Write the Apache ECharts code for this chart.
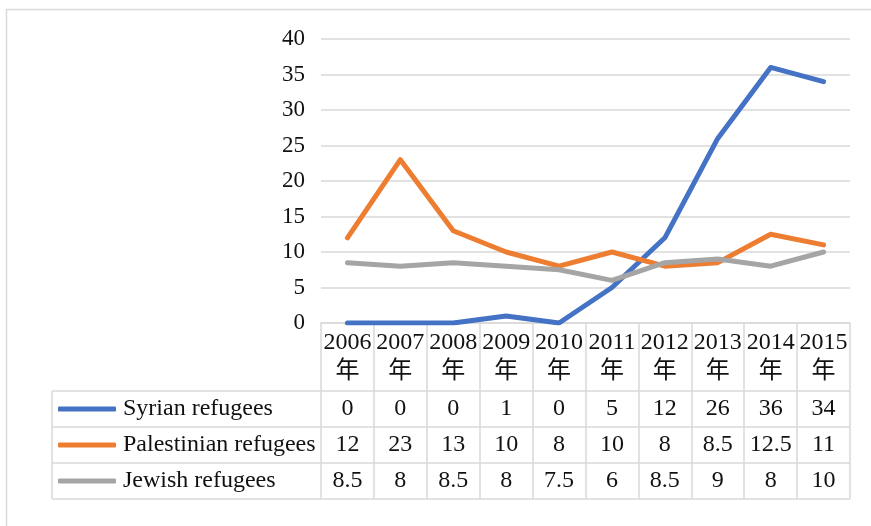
<!DOCTYPE html>
<html><head><meta charset="utf-8">
<script src="https://cdn.jsdelivr.net/npm/echarts@6/dist/echarts.min.js"></script>
<style>html,body{margin:0;padding:0;background:#fff}#c{width:871px;height:526px}</style>
</head><body><div id="c"></div>
<script>
const years = ['2006','2007','2008','2009','2010','2011','2012','2013','2014','2015'];
const yearSuffix = '年';
const seriesNames = ['Syrian refugees','Palestinian refugees','Jewish refugees'];
const syrian = [0,0,0,1,0,5,12,26,36,34];
const palestinian = [12,23,13,10,8,10,8,8.5,12.5,11];
const jewish = [8.5,8,8.5,8,7.5,6,8.5,9,8,10];
const colors = ['#4472C4','#ED7D31','#A5A5A5'];
const allValues = [syrian, palestinian, jewish];

const FONT = "'Liberation Serif','Noto Sans CJK SC',serif";
const TXT = '#111';
const GRID_C = '#d9d9d9';

const chart = echarts.init(document.getElementById('c'), null, {renderer:'canvas'});

const tableAxes = allValues.map((vals, i) => ({
  type:'category', data: years, position:'bottom', offset: 68 + i*36, gridIndex:0,
  boundaryGap:true,
  axisLine:{show:false}, axisTick:{show:false}, splitLine:{show:false},
  axisLabel:{margin:0, fontFamily:FONT, fontSize:24, color:TXT, lineHeight:36, interval:0,
    formatter:(v, idx) => String(vals[idx])}
}));

const option = {
  animation:false,
  color: colors,
  grid:{left:321, right:21, top:39, bottom:203, containLabel:false},
  legend:{
    orient:'vertical', left:58, top:391, itemGap:0, padding:0,
    itemWidth:58, itemHeight:5, icon:'roundRect',
    textStyle:{fontFamily:FONT, fontSize:24, color:TXT, lineHeight:36, padding:[0,0,0,2]},
    data: seriesNames, selectedMode:false
  },
  xAxis:[{
    type:'category', data: years, boundaryGap:true,
    axisLine:{show:true, lineStyle:{color:GRID_C, width:1.5}},
    axisTick:{show:true, length:176, lineStyle:{color:GRID_C, width:1.5}},
    axisLabel:{margin:5, fontFamily:FONT, fontSize:24, color:TXT, lineHeight:29, interval:0,
      formatter:v => v + '\n' + yearSuffix}
  }].concat(tableAxes),
  yAxis:{
    type:'value', min:0, max:40, interval:5,
    axisLine:{show:false}, axisTick:{show:false},
    axisLabel:{margin:16, fontFamily:FONT, fontSize:23, color:TXT},
    splitLine:{lineStyle:{color:GRID_C, width:1.5}}
  },
  series: allValues.map((vals,i) => ({
    name: seriesNames[i], type:'line', data: vals, xAxisIndex:0,
    symbol:'none', lineStyle:{width:5, cap:'round', join:'round', color:colors[i]},
    itemStyle:{color:colors[i]}
  })),
  graphic:[
    {type:'rect', shape:{x:6.5,y:9.5,width:900,height:600}, style:{fill:'none', stroke:GRID_C, lineWidth:1.5}, silent:true, z:-10},
    ...[391,427,463,499].map(y => ({type:'line', shape:{x1:52,y1:y,x2:850,y2:y}, style:{stroke:GRID_C, lineWidth:1.5}, silent:true})),
    {type:'line', shape:{x1:52,y1:391,x2:52,y2:499}, style:{stroke:GRID_C, lineWidth:1.5}, silent:true}
  ]
};
chart.setOption(option);
</script></body></html>
